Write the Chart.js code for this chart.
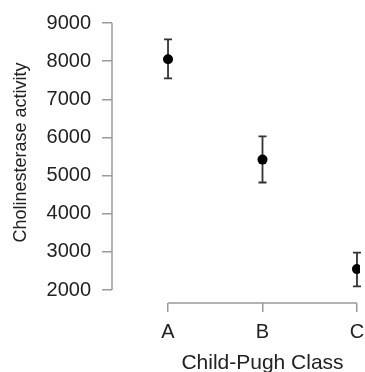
<!DOCTYPE html>
<html lang="en">
<head>
    <meta charset="UTF-8">
    <title>Cholinesterase by Child-Pugh Class</title>
    <script src="https://cdn.jsdelivr.net/npm/chart.js@4.4.0/dist/chart.umd.min.js"></script>
    <style>
        body{ margin: 0; background: #fff; }
        .chart{ width: 365px; height: 372px; }
    </style>
</head>
<body>
    <div class="chart">
        <canvas id="cheChart"></canvas>
    </div>
<script>
    // values
    var classes = ['A', 'B', 'C'];
    var means = [8050, 5420, 2550];
    var lower = [7550, 4820, 2100];
    var upper = [8570, 6030, 2980];
    var yTicks = [2000, 3000, 4000, 5000, 6000, 7000, 8000, 9000];
    var xTitle = 'Child-Pugh Class';
    var yTitle = 'Cholinesterase activity';

    var axisGray = '#9a9a9a';
    var textColor = '#222';

    // R style axes: lines only span first to last tick, titles centred on that span, plus the error bars
    var extras = {
        id: 'extras',
        beforeDatasetsDraw: function(chart){
            var ctx = chart.ctx, x = chart.scales.x, y = chart.scales.y;
            var area = chart.chartArea;
            ctx.save();
            ctx.strokeStyle = axisGray;
            ctx.lineWidth = 1.5;
            ctx.beginPath();
            ctx.moveTo(area.left, y.getPixelForValue(yTicks[0]));
            ctx.lineTo(area.left, y.getPixelForValue(yTicks[yTicks.length - 1]));
            ctx.moveTo(x.getPixelForValue(1), area.bottom);
            ctx.lineTo(x.getPixelForValue(classes.length), area.bottom);
            ctx.stroke();

            ctx.strokeStyle = '#333';
            ctx.lineWidth = 1.8;
            for(var i = 0; i < classes.length; i++){
                var px = x.getPixelForValue(i + 1);
                var top = y.getPixelForValue(upper[i]);
                var bot = y.getPixelForValue(lower[i]);
                ctx.beginPath();
                ctx.moveTo(px, top); ctx.lineTo(px, bot);
                ctx.moveTo(px - 4, top); ctx.lineTo(px + 4, top);
                ctx.moveTo(px - 4, bot); ctx.lineTo(px + 4, bot);
                ctx.stroke();
            }

            ctx.fillStyle = textColor;
            ctx.textAlign = 'center';
            ctx.textBaseline = 'middle';
            ctx.font = '21px "Liberation Sans"';
            ctx.fillText(xTitle, (x.getPixelForValue(1) + x.getPixelForValue(classes.length)) / 2, chart.height - 9);
            ctx.translate(21, (y.getPixelForValue(yTicks[0]) + y.getPixelForValue(yTicks[yTicks.length - 1])) / 2 - 4);
            ctx.rotate(-Math.PI / 2);
            ctx.font = '18px "Liberation Sans"';
            ctx.fillText(yTitle, 0, 0);
            ctx.restore();
        }
    };

    var points = classes.map(function(c, i){ return {x: i + 1, y: means[i]}; });

    new Chart(document.getElementById('cheChart'), {
        type: 'scatter',
        data: {
            datasets: [{
                data: points,
                backgroundColor: '#000',
                borderColor: '#000',
                borderWidth: 0,
                pointRadius: 5
            }]
        },
        options: {
            responsive: true,
            maintainAspectRatio: false,
            animation: false,
            layout: { padding: { left: 0, top: 21, right: 0, bottom: 0 } },
            plugins: { legend: { display: false }, tooltip: { enabled: false } },
            scales: {
                x: {
                    type: 'linear',
                    min: 0.407,
                    max: 3.032,
                    afterBuildTicks: function(s){ s.ticks = classes.map(function(c, i){ return {value: i + 1}; }); },
                    afterFit: function(s){ s.height = 69; s.paddingLeft = 0; s.paddingRight = 0; },
                    border: { display: false },
                    grid: { drawOnChartArea: false, drawTicks: true, tickLength: 9, color: axisGray, lineWidth: 1.5 },
                    ticks: {
                        padding: 8,
                        color: textColor,
                        font: { family: 'Liberation Sans', size: 20 },
                        callback: function(v){ return classes[v - 1]; }
                    }
                },
                y: {
                    min: 1662,
                    max: 9000,
                    afterBuildTicks: function(s){ s.ticks = yTicks.map(function(v){ return {value: v}; }); },
                    afterFit: function(s){ s.width = 112; },
                    border: { display: false },
                    grid: { drawOnChartArea: false, drawTicks: true, tickLength: 10, color: axisGray, lineWidth: 1.5 },
                    ticks: {
                        padding: 11,
                        color: textColor,
                        font: { family: 'Liberation Sans', size: 20 },
                        callback: function(v){ return String(v); }
                    }
                }
            }
        },
        plugins: [extras]
    });
</script>
</body>
</html>
